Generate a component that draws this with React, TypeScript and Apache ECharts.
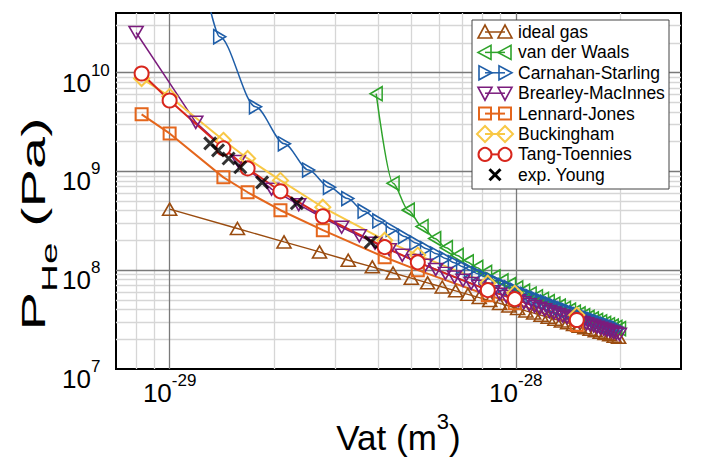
import React, { useEffect, useRef } from 'react';
import * as echarts from 'echarts';

// x values are stored in units of 1e-29 m^3; the axis labels add this exponent
const X_EXP_OFFSET = -29;

const idealV = [1.00, 1.57, 2.14, 2.71, 3.28, 3.85, 4.42, 4.99, 5.56, 6.13, 6.70, 7.27, 7.84, 8.41, 8.98, 9.55, 10.12, 10.69, 11.26, 11.83, 12.40, 12.97, 13.54, 14.11, 14.68, 15.25, 15.82, 16.39, 16.96, 17.53, 18.10, 18.67, 19.24, 19.81];
const idealP = [4.14e8, 2.64e8, 1.93e8, 1.53e8, 1.26e8, 1.08e8, 9.37e7, 8.30e7, 7.45e7, 6.75e7, 6.18e7, 5.69e7, 5.28e7, 4.92e7, 4.61e7, 4.34e7, 4.09e7, 3.87e7, 3.68e7, 3.50e7, 3.34e7, 3.19e7, 3.06e7, 2.93e7, 2.82e7, 2.71e7, 2.62e7, 2.53e7, 2.44e7, 2.36e7, 2.29e7, 2.22e7, 2.15e7, 2.09e7];

const vdwV = [3.95, 4.42, 4.89, 5.36, 5.83, 6.30, 6.77, 7.24, 7.71, 8.18, 8.65, 9.12, 9.59, 10.06, 10.53, 11.00, 11.47, 11.94, 12.41, 12.88, 13.35, 13.82, 14.29, 14.76, 15.23, 15.70, 16.17, 16.64, 17.11, 17.58, 18.05, 18.52, 18.99, 19.46, 19.93];
const vdwP = [6.1e9, 7.57e8, 4.05e8, 2.76e8, 2.09e8, 1.685e8, 1.41e8, 1.213e8, 1.064e8, 9.48e7, 8.55e7, 7.78e7, 7.14e7, 6.60e7, 6.14e7, 5.73e7, 5.38e7, 5.07e7, 4.79e7, 4.54e7, 4.32e7, 4.11e7, 3.93e7, 3.76e7, 3.61e7, 3.46e7, 3.33e7, 3.21e7, 3.10e7, 2.99e7, 2.89e7, 2.80e7, 2.71e7, 2.63e7, 2.56e7];

const csV = [1.30, 1.395, 1.77, 2.145, 2.52, 2.895, 3.27, 3.645, 4.02, 4.395, 4.77, 5.145, 5.52, 5.895, 6.27, 6.645, 7.02, 7.395, 7.77, 8.145, 8.52, 8.895, 9.27, 9.645, 10.02, 10.395, 10.77, 11.145, 11.52, 11.895, 12.27, 12.645, 13.02, 13.395, 13.77, 14.145, 14.52, 14.895, 15.27, 15.645, 16.02, 16.395, 16.77, 17.145, 17.52, 17.895, 18.27, 18.645, 19.02, 19.395, 19.77];
const csP = [4.9e10, 2.3e10, 4.5e9, 1.9e9, 1.03e9, 6.9e8, 5.3e8, 3.95e8, 3.15e8, 2.59e8, 2.19e8, 1.885e8, 1.65e8, 1.464e8, 1.313e8, 1.189e8, 1.085e8, 9.96e7, 9.21e7, 8.55e7, 7.98e7, 7.48e7, 7.03e7, 6.64e7, 6.28e7, 5.96e7, 5.67e7, 5.40e7, 5.16e7, 4.94e7, 4.735e7, 4.548e7, 4.374e7, 4.213e7, 4.062e7, 3.922e7, 3.791e7, 3.668e7, 3.554e7, 3.445e7, 3.343e7, 3.247e7, 3.157e7, 3.070e7, 2.989e7, 2.911e7, 2.838e7, 2.767e7, 2.702e7, 2.638e7, 2.577e7];

const bmV = [0.80, 1.19, 1.58, 1.97, 2.36, 2.75, 3.14, 3.53, 3.92, 4.31, 4.70, 5.09, 5.48, 5.87, 6.26, 6.65, 7.04, 7.43, 7.82, 8.21, 8.60, 8.99, 9.38, 9.77, 10.16, 10.55, 10.94, 11.33, 11.72, 12.11, 12.50, 12.89, 13.28, 13.67, 14.06, 14.45, 14.84, 15.23, 15.62, 16.01, 16.40, 16.79, 17.18, 17.57, 17.96, 18.35, 18.74, 19.13, 19.52, 19.91];
const bmP = [2.54e10, 3.13e9, 1.26e9, 6.6e8, 4.6e8, 3.43e8, 2.72e8, 2.23e8, 1.877e8, 1.614e8, 1.412e8, 1.252e8, 1.123e8, 1.017e8, 9.28e7, 8.53e7, 7.89e7, 7.34e7, 6.86e7, 6.43e7, 6.06e7, 5.72e7, 5.42e7, 5.15e7, 4.91e7, 4.69e7, 4.48e7, 4.30e7, 4.12e7, 3.97e7, 3.82e7, 3.68e7, 3.56e7, 3.44e7, 3.33e7, 3.22e7, 3.13e7, 3.03e7, 2.95e7, 2.87e7, 2.79e7, 2.72e7, 2.65e7, 2.58e7, 2.52e7, 2.46e7, 2.40e7, 2.35e7, 2.30e7, 2.245e7];

const potV = [0.83, 1.00, 1.43, 1.68, 2.09, 2.77, 4.18, 5.21, 8.30, 9.93, 15.0];
const ljP = [3.77e9, 2.42e9, 8.69e8, 6.14e8, 4.04e8, 2.54e8, 1.35e8, 1.0e8, 5.58e7, 4.64e7, 2.78e7];
const buckP = [8.69e9, 5.73e9, 2.06e9, 1.35e9, 8.1e8, 4.33e8, 2.01e8, 1.42e8, 7.4e7, 5.86e7, 3.51e7];
const ttP = [9.77e9, 5.21e9, 1.71e9, 1.07e9, 6.28e8, 3.51e8, 1.71e8, 1.20e8, 6.28e7, 5.09e7, 3.13e7];

const youngV = [1.31, 1.38, 1.48, 1.60, 1.85, 2.33, 3.81];
const youngP = [1.92e9, 1.63e9, 1.35e9, 1.10e9, 7.74e8, 4.75e8, 1.92e8];

const xMajor = [1, 10];
const xMinor = [0.8, 0.9, 2, 3, 4, 5, 6, 7, 8, 9, 20];
const yMajor = [1e8, 1e9, 1e10];
const yMinor = [2e7, 3e7, 4e7, 5e7, 6e7, 7e7, 8e7, 9e7, 2e8, 3e8, 4e8, 5e8, 6e8, 7e8, 8e8, 9e8, 2e9, 3e9, 4e9, 5e9, 6e9, 7e9, 8e9, 9e9, 2e10, 3e10];

const FONT = "'Liberation Sans', Arial, Helvetica, sans-serif";

const C = {
  ideal: '#9a4c10',
  vdw: '#2ea32a',
  cs: '#1f5ea8',
  bm: '#7b1c7d',
  lj: '#e4661c',
  buck: '#f8c846',
  tt: '#d8261c',
  young: '#000000',
};

const X_PATH = 'path://M0,0L10,10M10,0L0,10';

type Kind = 'up' | 'left' | 'right' | 'down' | 'square' | 'diamond' | 'circle' | 'x';

const legendItems: { name: string; color: string; kind: Kind; fill: string; lw: number }[] = [
  { name: 'ideal gas', color: C.ideal, kind: 'up', fill: 'none', lw: 1.5 },
  { name: 'van der Waals', color: C.vdw, kind: 'left', fill: 'none', lw: 1.5 },
  { name: 'Carnahan-Starling', color: C.cs, kind: 'right', fill: 'none', lw: 1.5 },
  { name: 'Brearley-MacInnes', color: C.bm, kind: 'down', fill: 'none', lw: 1.5 },
  { name: 'Lennard-Jones', color: C.lj, kind: 'square', fill: 'none', lw: 2 },
  { name: 'Buckingham', color: C.buck, kind: 'diamond', fill: 'none', lw: 2 },
  { name: 'Tang-Toennies', color: C.tt, kind: 'circle', fill: '#ffffff', lw: 2 },
  { name: 'exp. Young', color: C.young, kind: 'x', fill: 'none', lw: 2.5 },
];

function pairs(xs: number[], ys: number[]) {
  return xs.map((x, i) => [x, ys[i]]);
}

function powLabel(v: number, offset: number) {
  const e = Math.log10(v);
  const r = Math.round(e);
  if (Math.abs(e - r) > 1e-6) return '';
  return `{b|10}{s|${r + offset}}`;
}

function legendMarker(kind: Kind, cx: number, cy: number, color: string, fill: string): any[] {
  const st = { fill, stroke: color, lineWidth: 1.6 };
  switch (kind) {
    case 'up':
      return [{ type: 'polygon', shape: { points: [[cx - 7, cy + 6], [cx + 7, cy + 6], [cx, cy - 7]] }, style: st }];
    case 'down':
      return [{ type: 'polygon', shape: { points: [[cx - 7, cy - 6], [cx + 7, cy - 6], [cx, cy + 7]] }, style: st }];
    case 'left':
      return [{ type: 'polygon', shape: { points: [[cx + 6, cy - 7], [cx + 6, cy + 7], [cx - 7, cy]] }, style: st }];
    case 'right':
      return [{ type: 'polygon', shape: { points: [[cx - 6, cy - 7], [cx - 6, cy + 7], [cx + 7, cy]] }, style: st }];
    case 'square':
      return [{ type: 'rect', shape: { x: cx - 6, y: cy - 6, width: 12, height: 12 }, style: { ...st, lineWidth: 2 } }];
    case 'diamond':
      return [{ type: 'polygon', shape: { points: [[cx, cy - 8], [cx + 8, cy], [cx, cy + 8], [cx - 8, cy]] }, style: { ...st, lineWidth: 2 } }];
    case 'circle':
      return [{ type: 'circle', shape: { cx, cy, r: 6.5 }, style: { ...st, lineWidth: 2 } }];
    case 'x':
      return [
        { type: 'polyline', shape: { points: [[cx - 5.5, cy - 5.5], [cx + 5.5, cy + 5.5]] }, style: { stroke: color, lineWidth: 3, fill: 'none' } },
        { type: 'polyline', shape: { points: [[cx + 5.5, cy - 5.5], [cx - 5.5, cy + 5.5]] }, style: { stroke: color, lineWidth: 3, fill: 'none' } },
      ];
  }
  return [];
}

function buildLegend(): any[] {
  const els: any[] = [];
  const x0 = 472, y0 = 20, w = 197, h = 169;
  els.push({ type: 'rect', z: 100, shape: { x: x0, y: y0, width: w, height: h }, style: { fill: '#fff', stroke: '#444', lineWidth: 1 } });
  legendItems.forEach((it, i) => {
    const cy = 32 + i * 20.4;
    if (it.kind === 'x') {
      legendMarker(it.kind, 495, cy, it.color, it.fill).forEach((m) => els.push({ ...m, z: 101 }));
    } else {
      els.push({ type: 'polyline', z: 101, shape: { points: [[485, cy], [505, cy]] }, style: { stroke: it.color, lineWidth: it.lw, fill: 'none' } });
      legendMarker(it.kind, 485, cy, it.color, it.fill).forEach((m) => els.push({ ...m, z: 102 }));
      legendMarker(it.kind, 505, cy, it.color, it.fill).forEach((m) => els.push({ ...m, z: 102 }));
    }
    els.push({
      type: 'text',
      z: 103,
      x: 518,
      y: cy,
      style: { text: it.name, fontSize: 17.5, fontFamily: FONT, fill: '#000', verticalAlign: 'middle', align: 'left' },
    });
  });
  return els;
}

export default function App() {
  const ref = useRef<HTMLDivElement>(null);
  useEffect(() => {
    const chart = echarts.init(ref.current!, undefined, { renderer: 'svg' });
    const lineSeries = (name: string, v: number[], p: number[], color: string, opts: any) => ({
      name,
      type: 'line',
      data: pairs(v, p),
      showAllSymbol: true,
      clip: true,
      lineStyle: { color, width: opts.lw },
      itemStyle: { color: opts.fill, borderColor: color, borderWidth: opts.bw ?? 1.6 },
      symbol: opts.symbol,
      symbolSize: opts.size,
      symbolRotate: opts.rotate ?? 0,
      smooth: opts.smooth ?? false,
      smoothMonotone: 'x',
      emphasis: { disabled: true },
      z: 3,
    });

    const gridLines = [
      ...xMinor.map((v) => ({ xAxis: v, lineStyle: { color: '#d6d6d6', width: 1.3, type: 'solid' } })),
      ...yMinor.map((v) => ({ yAxis: v, lineStyle: { color: '#d6d6d6', width: 1.3, type: 'solid' } })),
      ...xMajor.map((v) => ({ xAxis: v, lineStyle: { color: '#7a7a7a', width: 1.3, type: 'solid' } })),
      ...yMajor.map((v) => ({ yAxis: v, lineStyle: { color: '#7a7a7a', width: 1.3, type: 'solid' } })),
    ];

    const tickRich = {
      b: { fontSize: 26, lineHeight: 34, verticalAlign: 'bottom', fontFamily: FONT, color: '#000' },
      s: { fontSize: 17, lineHeight: 20, verticalAlign: 'top', fontFamily: FONT, color: '#000' },
    };

    const option: any = {
      animation: false,
      backgroundColor: '#ffffff',
      textStyle: { fontFamily: FONT },
      grid: {
        left: 116, top: 13, right: 21, bottom: 90,
        outerBoundsMode: 'none', containLabel: false,
        show: true, borderColor: '#000', borderWidth: 2, backgroundColor: '#fff',
      },
      xAxis: {
        type: 'log',
        logBase: 10,
        min: 0.7,
        max: 30,
        axisLine: { show: false },
        axisTick: { show: false },
        splitLine: { show: false },
        minorSplitLine: { show: false },
        axisLabel: {
          margin: 3,
          color: '#000',
          formatter: (v: number) => powLabel(v, X_EXP_OFFSET),
          rich: tickRich,
        },
        name: '{n|Vat (m}{s|3}{n|)}',
        nameLocation: 'middle',
        nameGap: 15,
        nameTextStyle: {
          rich: {
            n: { fontSize: 35, lineHeight: 44, verticalAlign: 'bottom', fontFamily: FONT, color: '#000' },
            s: { fontSize: 22, lineHeight: 24, verticalAlign: 'top', fontFamily: FONT, color: '#000' },
          },
        },
      },
      yAxis: {
        type: 'log',
        logBase: 10,
        min: 1e7,
        max: 4e10,
        axisLine: { show: false },
        axisTick: { show: false },
        splitLine: { show: false },
        minorSplitLine: { show: false },
        axisLabel: {
          margin: 54,
          align: 'left',
          color: '#000',
          padding: [12, 0, 0, 0],
          formatter: (v: number) => powLabel(v, 0),
          rich: tickRich,
        },
      },
      graphic: [
        {
          type: 'text',
          x: 39,
          y: 224,
          rotation: Math.PI / 2,
          scaleX: 1.75,
          z: 100,
          style: {
            text: '{n|P}{b|He}{n| (Pa)}',
            align: 'center',
            verticalAlign: 'middle',
            rich: {
              n: { fontSize: 33, lineHeight: 38, verticalAlign: 'top', fontFamily: FONT, fill: '#000' },
              b: { fontSize: 22, lineHeight: 44, verticalAlign: 'bottom', fontFamily: FONT, fill: '#000' },
            },
          },
        },
        ...buildLegend(),
      ],
      series: [
        {
          name: 'grid-lines',
          type: 'line',
          data: [[1, 1e8]],
          showSymbol: false,
          lineStyle: { opacity: 0 },
          silent: true,
          z: 1,
          markLine: { silent: true, z: 1, symbol: ['none', 'none'], label: { show: false }, animation: false, data: gridLines },
        },
        lineSeries('ideal gas', idealV, idealP, C.ideal, { lw: 1.4, fill: 'rgba(0,0,0,0)', symbol: 'triangle', size: [14, 12] }),
        lineSeries('van der Waals', vdwV, vdwP, C.vdw, { lw: 1.5, fill: 'rgba(0,0,0,0)', symbol: 'triangle', size: [14, 12], rotate: 90, smooth: 0.3 }),
        lineSeries('Carnahan-Starling', csV, csP, C.cs, { lw: 1.5, fill: 'rgba(0,0,0,0)', symbol: 'triangle', size: [14, 12], rotate: -90, smooth: 0.3 }),
        lineSeries('Brearley-MacInnes', bmV, bmP, C.bm, { lw: 1.5, fill: 'rgba(0,0,0,0)', symbol: 'triangle', size: [14, 12], rotate: 180 }),
        lineSeries('Lennard-Jones', potV, ljP, C.lj, { lw: 2, fill: 'rgba(0,0,0,0)', symbol: 'rect', size: 12, bw: 2 }),
        lineSeries('Buckingham', potV, buckP, C.buck, { lw: 2, fill: 'rgba(0,0,0,0)', symbol: 'diamond', size: 15, bw: 2 }),
        lineSeries('Tang-Toennies', potV, ttP, C.tt, { lw: 2, fill: '#ffffff', symbol: 'circle', size: 14, bw: 2 }),
        {
          name: 'exp. Young',
          type: 'scatter',
          data: pairs(youngV, youngP),
          symbol: X_PATH,
          symbolSize: 12,
          itemStyle: { color: 'rgba(0,0,0,0)', borderColor: C.young, borderWidth: 3 },
          emphasis: { disabled: true },
          z: 4,
        },
      ],
    };
    chart.setOption(option);
    return () => chart.dispose();
  }, []);
  return <div ref={ref} style={{ position: 'fixed', left: 0, top: 0, width: 702, height: 459, background: '#fff' }} />;
}
